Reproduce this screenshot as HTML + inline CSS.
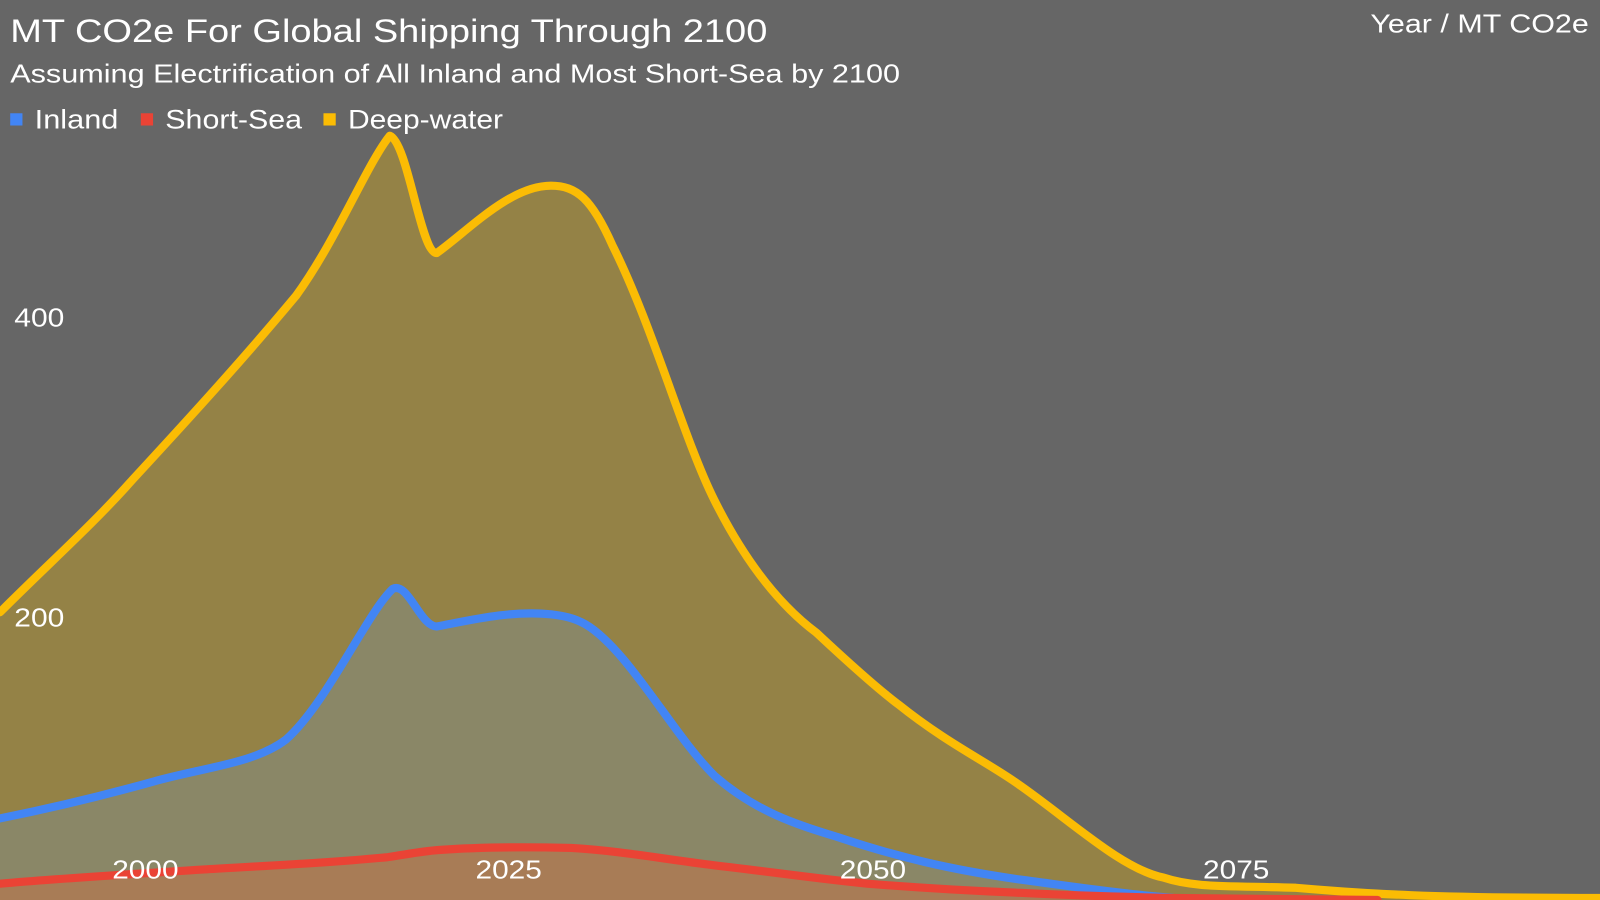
<!DOCTYPE html>
<html><head><style>
html,body{margin:0;padding:0;background:#666666;}
svg{display:block;}
</style></head><body>
<svg width="1600" height="900" viewBox="0 0 1568 882" preserveAspectRatio="none" xmlns="http://www.w3.org/2000/svg" font-family="Liberation Sans, Arial, sans-serif">
<rect width="1568" height="882" fill="#666666"/>
<path d="M0,600 C50,550 90,515 130,470 C190,405 240,350 290,290 C330,235 360,160 382,133 C400,140 412,248 428,248 C460,225 500,182 540,182 C565,182 580,195 600,240 C640,320 670,430 700,490 C740,570 780,605 800,620 C830,648 860,675 880,690 C930,730 970,748 1000,770 C1050,805 1100,852 1140,860 C1170,870 1200,868 1270,870 C1340,876 1400,880 1568,880 L1568,882 L0,882 Z" fill="#948246"/>
<path d="M0,802 C50,792 100,780 150,766 C200,752 250,748 280,725 C320,690 360,600 385,577 C400,570 412,614 428,614 C460,608 500,598 540,602 C565,605 580,610 610,645 C640,680 670,730 700,760 C740,795 780,808 820,820 C880,840 930,852 1000,862 C1060,870 1100,876 1150,880 L1300,885 L1300,882 L0,882 Z" fill="#8a8767"/>
<path d="M0,866 C70,860 140,856 200,852 C270,848 330,845 380,840 C400,837 415,834 430,833 C470,830 520,830 560,831 C610,834 650,842 700,848 C760,855 800,861 850,866 C900,870 950,873 1000,875 C1060,878 1100,879 1150,880 L1350,882 L0,882 Z" fill="#a87c56"/>
<g fill="none" stroke-width="8" stroke-linecap="round" stroke-linejoin="round">
<path d="M0,600 C50,550 90,515 130,470 C190,405 240,350 290,290 C330,235 360,160 382,133 C400,140 412,248 428,248 C460,225 500,182 540,182 C565,182 580,195 600,240 C640,320 670,430 700,490 C740,570 780,605 800,620 C830,648 860,675 880,690 C930,730 970,748 1000,770 C1050,805 1100,852 1140,860 C1170,870 1200,868 1270,870 C1340,876 1400,880 1568,880" stroke="#fbbc04"/>
<path d="M0,802 C50,792 100,780 150,766 C200,752 250,748 280,725 C320,690 360,600 385,577 C400,570 412,614 428,614 C460,608 500,598 540,602 C565,605 580,610 610,645 C640,680 670,730 700,760 C740,795 780,808 820,820 C880,840 930,852 1000,862 C1060,870 1100,876 1150,880 L1300,885" stroke="#4285f4"/>
<path d="M0,866 C70,860 140,856 200,852 C270,848 330,845 380,840 C400,837 415,834 430,833 C470,830 520,830 560,831 C610,834 650,842 700,848 C760,855 800,861 850,866 C900,870 950,873 1000,875 C1060,878 1100,879 1150,880 L1350,882" stroke="#ea4335"/>
</g>
<g fill="#ffffff" lengthAdjust="spacingAndGlyphs">
<text x="10" y="41" font-size="32" textLength="742" lengthAdjust="spacingAndGlyphs">MT CO2e For Global Shipping Through 2100</text>
<text x="10" y="81" font-size="25" textLength="872" lengthAdjust="spacingAndGlyphs">Assuming Electrification of All Inland and Most Short-Sea by 2100</text>
<text x="1343" y="32" font-size="25" textLength="214" lengthAdjust="spacingAndGlyphs">Year / MT CO2e</text>
<rect x="10" y="111" width="12" height="12" fill="#4285f4"/>
<text x="34" y="126" font-size="26" textLength="82" lengthAdjust="spacingAndGlyphs">Inland</text>
<rect x="138" y="111" width="12" height="12" fill="#ea4335"/>
<text x="162" y="126" font-size="26" textLength="134" lengthAdjust="spacingAndGlyphs">Short-Sea</text>
<rect x="317" y="111" width="12" height="12" fill="#fbbc04"/>
<text x="341" y="126" font-size="26" textLength="152" lengthAdjust="spacingAndGlyphs">Deep-water</text>
<text x="14" y="320" font-size="25" textLength="49" lengthAdjust="spacingAndGlyphs">400</text>
<text x="14" y="614" font-size="25" textLength="49" lengthAdjust="spacingAndGlyphs">200</text>
<text x="110" y="861" font-size="25" textLength="65" lengthAdjust="spacingAndGlyphs">2000</text>
<text x="466" y="861" font-size="25" textLength="65" lengthAdjust="spacingAndGlyphs">2025</text>
<text x="823" y="861" font-size="25" textLength="65" lengthAdjust="spacingAndGlyphs">2050</text>
<text x="1179" y="861" font-size="25" textLength="65" lengthAdjust="spacingAndGlyphs">2075</text>
</g>
</svg>
</body></html>
